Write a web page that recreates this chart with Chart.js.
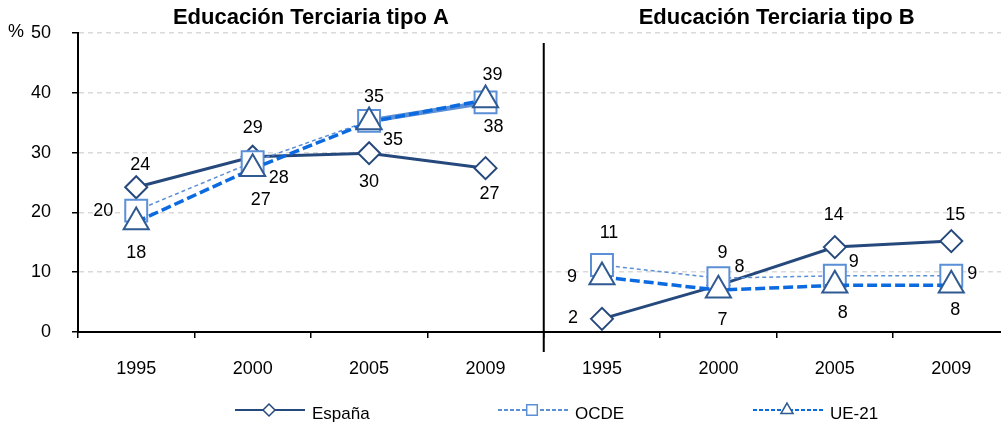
<!DOCTYPE html>
<html lang="es">
<head>
  <meta charset="UTF-8">
  <title>Educación Terciaria tipo A y B</title>
  <script src="https://cdn.jsdelivr.net/npm/chart.js"></script>
  <style>
    body { margin: 0; background: #fff; }
    #wrap { width: 1001px; height: 425px; overflow: hidden; }
  </style>
</head>
<body>
  <div id="wrap"><canvas id="chart" width="1027" height="425"></canvas></div>

  <script>
    // datos (%)
    const years = ['1995', '2000', '2005', '2009'];
    const panelTitles = ['Educación Terciaria tipo A', 'Educación Terciaria tipo B'];
    const yTicks = [0, 10, 20, 30, 40, 50];

    const espanaA = [24.2, 29.3, 29.9, 27.4];
    const ocdeA   = [20.3, 28.4, 35.3, 38.4];
    const ue21A   = [18.4, 27.3, 35.1, 38.8];

    const espanaB = [2.2, 7.8, 14.2, 15.2];
    const ocdeB   = [11.2, 9.0, 9.4, 9.4];
    const ue21B   = [9.2, 7.0, 7.8, 7.8];

    const FONT = '"Liberation Sans", Arial, sans-serif';
    const C_ESP = '#26497d';
    const C_OCDE = '#5b8fd6';
    const C_UE = '#0b6ae0';
    const C_TRI = '#2f5a92';

    const allLabels = [...years, ...years];
    const empty = [null, null, null, null];
    const left = arr => [...arr, ...empty];
    const right = arr => [...empty, ...arr];

    function espana(data, offs) {
      return {
        label: 'España', data, order: 3, labelOffsets: offs,
        borderColor: C_ESP, borderWidth: 3,
        pointStyle: 'rectRot', pointRadius: 11, pointBorderWidth: 2,
        pointBorderColor: C_ESP, pointBackgroundColor: '#fff'
      };
    }
    function ocde(data, offs, extra) {
      return Object.assign({
        label: 'OCDE', data, order: 2, labelOffsets: offs,
        borderColor: C_OCDE, borderWidth: 1.5, borderDash: [4, 3],
        pointStyle: 'rect', pointRadius: 15.5, pointBorderWidth: 2,
        pointBorderColor: C_OCDE, pointBackgroundColor: '#fff'
      }, extra || {});
    }
    function ue21(data, offs) {
      return {
        label: 'UE-21', data, order: 1, labelOffsets: offs,
        borderColor: C_UE, borderWidth: 3.5, borderDash: [10, 4],
        pointStyle: 'triangle', pointRadius: 14.5, pointBorderWidth: 2,
        pointBorderColor: C_TRI, pointBackgroundColor: '#fff'
      };
    }

    const datasets = [
      espana(left(espanaA), [[4, -22], [0, -29], [0, 29], [4, 26]]),
      ocde(left(ocdeA), [[-33, 0], [26, 16], [5, -24], [8, 25]], {
        segment: {
          borderWidth: c => c.p0DataIndex === 2 ? 5 : undefined,
          borderDash: c => c.p0DataIndex === 2 ? [] : undefined
        }
      }),
      ue21(left(ue21A), [[0, 31], [8, 31], [24, 18], [7, -25]]),
      espana(right(espanaB), [[-29, -1], [21, -18], [-1, -32], [4, -26]]),
      ocde(right(ocdeB), [[7, -32], [4, -25], [19, -14], [21, -2]]),
      ue21(right(ue21B), [[-30, 0], [4, 30], [8, 28], [4, 25]])
    ];

    // etiquetas, títulos, separador y leyenda
    const extras = {
      id: 'extras',
      afterDatasetsDraw(chart) {
        const ctx = chart.ctx;
        const area = chart.chartArea;
        const x = chart.scales.x;
        ctx.save();
        ctx.fillStyle = '#000';
        ctx.font = '18px ' + FONT;
        ctx.textAlign = 'center';
        ctx.textBaseline = 'middle';
        chart.data.datasets.forEach((ds, di) => {
          const meta = chart.getDatasetMeta(di);
          let k = 0;
          meta.data.forEach((pt, i) => {
            const v = ds.data[i];
            if (v === null) return;
            const o = ds.labelOffsets[k++];
            ctx.fillText(String(Math.round(v)), pt.x + o[0], pt.y + o[1]);
          });
        });

        // separador entre paneles
        const sep = (x.getPixelForValue(3) + x.getPixelForValue(4)) / 2;
        ctx.strokeStyle = '#000';
        ctx.lineWidth = 2;
        ctx.beginPath();
        ctx.moveTo(sep, area.top + 10);
        ctx.lineTo(sep, area.bottom + 20);
        ctx.stroke();

        // títulos
        ctx.font = 'bold 22px ' + FONT;
        ctx.fillText(panelTitles[0], (area.left + sep) / 2, 18);
        ctx.fillText(panelTitles[1], (sep + area.right) / 2, 18);

        // %
        ctx.font = '18px ' + FONT;
        ctx.fillText('%', 16, area.top - 1);

        // leyenda
        const ly = 410;
        const items = [
          { x0: 235, ds: chart.data.datasets[0], style: 'rectRot', r: 6 },
          { x0: 498, ds: chart.data.datasets[1], style: 'rect', r: 7.5 },
          { x0: 753, ds: chart.data.datasets[2], style: 'triangle', r: 7 }
        ];
        ctx.font = '17px ' + FONT;
        items.forEach(it => {
          const ds = it.ds;
          ctx.strokeStyle = ds.borderColor;
          ctx.lineWidth = 2;
          ctx.setLineDash(ds.borderDash ? [4, 2] : []);
          ctx.beginPath();
          ctx.moveTo(it.x0, ly);
          ctx.lineTo(it.x0 + 70, ly);
          ctx.stroke();
          ctx.setLineDash([]);
          ctx.fillStyle = '#fff';
          ctx.strokeStyle = ds.pointBorderColor;
          ctx.lineWidth = 1.5;
          Chart.helpers.drawPoint(ctx, {
            pointStyle: it.style, radius: it.r, rotation: 0, borderWidth: 1.5
          }, it.x0 + 34, ly);
          ctx.fillStyle = '#000';
          ctx.textAlign = 'left';
          ctx.fillText(ds.label, it.x0 + 77, ly + 4);
        });
        ctx.restore();
      }
    };

    new Chart(document.getElementById('chart'), {
      type: 'line',
      data: { labels: allLabels, datasets },
      options: {
        responsive: false,
        animation: false,
        spanGaps: false,
        layout: { padding: { top: 33, left: 0, right: 0, bottom: 0 } },
        plugins: { legend: { display: false }, title: { display: false }, tooltip: { enabled: false } },
        scales: {
          x: {
            type: 'category',
            offset: true,
            afterFit: s => { s.height = 93; s.paddingLeft = 0; s.paddingRight = 0; },
            grid: { offset: true, drawOnChartArea: false, tickColor: '#000', tickLength: 6, lineWidth: 1.5 },
            border: { color: '#000', width: 2 },
            ticks: { color: '#000', font: { family: FONT, size: 18 }, padding: 20, maxRotation: 0, autoSkip: false }
          },
          y: {
            min: 0, max: 50,
            afterFit: s => { s.width = 78; s.paddingTop = 0; s.paddingBottom = 0; },
            afterBuildTicks: s => { s.ticks = yTicks.map(v => ({ value: v })); },
            grid: { color: '#d9d9d9', lineWidth: 1.5, tickColor: '#000', tickLength: 6 },
            border: { color: '#000', width: 2, dash: [5, 4] },
            ticks: { color: '#000', font: { family: FONT, size: 18 }, padding: 21 }
          }
        }
      },
      plugins: [extras]
    });
  </script>
</body>
</html>
